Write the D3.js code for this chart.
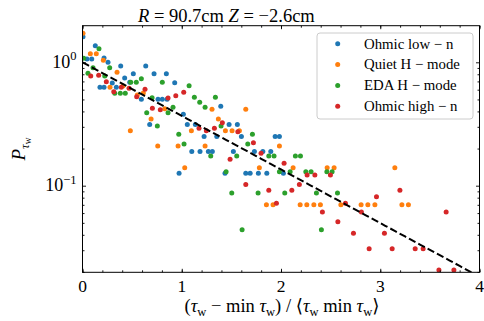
<!DOCTYPE html>
<html>
<head>
<meta charset="utf-8">
<script src="https://cdn.jsdelivr.net/npm/d3@7"></script>
<style>
  html, body { margin: 0; padding: 0; background: #fff; }
  svg text { font-family: "Liberation Serif", "DejaVu Serif", serif; fill: #000; }
</style>
</head>
<body>
<svg id="chart" width="484" height="321"></svg>
<script>
// Waiting-time distributions, normalised waiting time vs probability
const seriesNames = ["Ohmic low \u2212 n", "Quiet H \u2212 mode", "EDA H \u2212 mode", "Ohmic high \u2212 n"];
const seriesColors = ["#1f77b4", "#ff7f0e", "#2ca02c", "#d62728"];

const ohmicLowX = [0.005,0.129,0.045,0.093,0.217,0.257,0.385,0.637,0.512,0.721,0.845,0.425,0.300,0.476,0.929,0.176,0.217,0.341,0.593,0.761,0.804,0.852,1.016,0.677,1.056,1.137,1.393,1.477,1.560,1.225,1.353,1.601,1.941,1.984,1.101,1.184,1.268,1.308,1.520,1.732,1.817,1.897,0.973,1.436,1.645,1.689,1.772,1.857,2.024];
const ohmicLowP = [1.612,1.363,1.064,1.064,1.083,1.000,0.933,0.933,0.808,0.808,0.808,0.746,0.680,0.688,0.683,0.627,0.627,0.627,0.501,0.501,0.501,0.501,0.379,0.314,0.314,0.314,0.440,0.314,0.314,0.251,0.251,0.251,0.251,0.251,0.189,0.189,0.189,0.189,0.189,0.189,0.189,0.189,0.126,0.126,0.126,0.126,0.126,0.126,0.126];

const quietHX = [0.005,0.079,0.139,0.210,0.348,0.277,0.408,0.613,0.552,0.829,0.691,0.482,1.097,1.305,1.645,1.369,1.440,1.507,1.581,1.235,1.984,0.758,0.963,1.030,1.782,2.122,2.465,2.535,3.147,1.853,1.920,2.193,2.260,2.331,2.397,2.603,2.807,2.875,2.946,3.218,3.284];
const quietHP = [1.718,1.174,1.174,1.038,0.830,0.627,0.643,0.564,0.543,0.421,0.347,0.279,0.279,0.416,0.416,0.347,0.279,0.279,0.279,0.210,0.210,0.210,0.210,0.140,0.140,0.140,0.140,0.140,0.140,0.0702,0.0702,0.0702,0.0702,0.0702,0.0702,0.0702,0.0702,0.0702,0.0702,0.0702,0.0702];

const edaHX = [0.166,0.012,0.274,0.106,0.055,0.224,0.593,0.486,0.542,0.804,1.074,0.325,0.381,0.431,0.701,1.127,0.912,0.862,0.647,0.754,0.970,1.023,1.339,1.181,1.235,1.396,1.712,1.665,1.292,1.554,1.877,1.930,2.145,2.196,1.447,1.984,2.092,2.250,2.303,2.462,2.515,1.504,1.769,2.038,2.357,2.569,1.608,2.407];
const edaHP = [1.289,1.077,0.904,0.904,0.814,0.774,0.736,0.688,0.688,0.688,0.645,0.561,0.561,0.561,0.517,0.520,0.432,0.390,0.390,0.305,0.261,0.218,0.520,0.474,0.432,0.305,0.261,0.218,0.174,0.174,0.174,0.174,0.174,0.174,0.130,0.130,0.130,0.130,0.130,0.130,0.130,0.0873,0.0873,0.0873,0.0873,0.0873,0.0439,0.0439];

const ohmicHighX = [0.083,0.163,0.240,0.391,0.469,0.630,1.020,0.315,0.546,0.862,0.940,0.704,0.784,1.409,1.329,1.174,1.248,1.565,1.722,1.799,1.487,2.031,2.263,2.341,2.498,2.185,1.645,1.877,2.109,1.954,2.962,3.198,2.649,2.417,2.810,3.664,2.573,2.730,3.042,2.888,3.120,3.352,3.432,3.591,3.742];
const ohmicHighP = [0.774,0.785,0.696,0.627,0.616,0.604,0.571,0.578,0.526,0.514,0.536,0.424,0.413,0.324,0.292,0.292,0.279,0.274,0.223,0.183,0.164,0.152,0.122,0.122,0.122,0.1025,0.1025,0.0918,0.0918,0.0720,0.0814,0.0918,0.0720,0.0612,0.0612,0.0612,0.0511,0.0411,0.0411,0.0309,0.0309,0.0309,0.0309,0.0207,0.0207];

const xTicks = [0, 1, 2, 3, 4];
const xTickLabels = ["0", "1", "2", "3", "4"];
const yTicks = [1, 0.1];
const yTickExps = ["0", "\u22121"];
const title = { r: "90.7cm", z: "\u22122.6cm" };

const seriesX = [ohmicLowX, quietHX, edaHX, ohmicHighX];
const seriesP = [ohmicLowP, quietHP, edaHP, ohmicHighP];

const svg = d3.select("#chart");
const L = 82.5, R = 479.5, T = 25.7, B = 272.3;

const x = d3.scaleLinear().domain([0, 4]).range([L, R]);
const y = d3.scaleLog().domain([0.01987, 1.98]).range([B, T]);

svg.append("defs").append("clipPath").attr("id", "plotclip")
  .append("rect").attr("x", L).attr("y", T).attr("width", R - L).attr("height", B - T);

const plot = svg.append("g").attr("clip-path", "url(#plotclip)");

// scatter points, drawn series by series
seriesX.forEach((xs, s) => {
  const pts = xs.map((v, i) => ({ x: v, p: seriesP[s][i] }));
  plot.append("g").selectAll("circle").data(pts).enter().append("circle")
    .attr("cx", d => x(d.x)).attr("cy", d => y(d.p))
    .attr("r", 2.5).attr("fill", seriesColors[s]);
});

// exponential reference exp(-x)
const refX = d3.range(0, 4.001, 0.05);
plot.append("path")
  .datum(refX)
  .attr("d", d3.line().x(d => x(d)).y(d => y(Math.exp(-d))))
  .attr("fill", "none").attr("stroke", "#000").attr("stroke-width", 2)
  .attr("stroke-dasharray", "7.4,3.2");

// axes with inward ticks on all four sides
const minorX = d3.range(0, 4.001, 0.2).map(v => +v.toFixed(2));
const minorY = [];
[0.01, 0.1, 1].forEach(dec => { for (let k = 2; k <= 9; k++) minorY.push(dec * k); });
const minorYIn = minorY.filter(v => v >= 0.01987 && v <= 1.98);

function tickGroup(axis, tr) {
  const g = svg.append("g").attr("transform", tr).call(axis);
  g.select(".domain").remove();
  g.selectAll("line").attr("stroke", "#000").attr("stroke-width", 0.9);
  g.selectAll("text").remove();
  return g;
}
tickGroup(d3.axisBottom(x).tickValues(minorX).tickSizeInner(-2).tickSizeOuter(0), `translate(0,${B})`);
tickGroup(d3.axisBottom(x).tickValues(xTicks).tickSizeInner(-3.5).tickSizeOuter(0), `translate(0,${B})`);
tickGroup(d3.axisTop(x).tickValues(minorX).tickSizeInner(-2).tickSizeOuter(0), `translate(0,${T})`);
tickGroup(d3.axisTop(x).tickValues(xTicks).tickSizeInner(-3.5).tickSizeOuter(0), `translate(0,${T})`);
tickGroup(d3.axisLeft(y).tickValues(minorYIn).tickSizeInner(-2).tickSizeOuter(0), `translate(${L},0)`);
tickGroup(d3.axisLeft(y).tickValues(yTicks).tickSizeInner(-3.5).tickSizeOuter(0), `translate(${L},0)`);
tickGroup(d3.axisRight(y).tickValues(minorYIn).tickSizeInner(-2).tickSizeOuter(0), `translate(${R},0)`);
tickGroup(d3.axisRight(y).tickValues(yTicks).tickSizeInner(-3.5).tickSizeOuter(0), `translate(${R},0)`);

svg.append("rect").attr("x", L).attr("y", T).attr("width", R - L).attr("height", B - T)
  .attr("fill", "none").attr("stroke", "#000").attr("stroke-width", 1);

// tick labels
svg.append("g").selectAll("text").data(xTicks).enter().append("text")
  .attr("x", d => x(d)).attr("y", B + 19.5).attr("text-anchor", "middle")
  .attr("font-size", 17.5).text((d, i) => xTickLabels[i]);

const yl = svg.append("g").selectAll("text").data(yTicks).enter().append("text")
  .attr("x", L - 6).attr("y", d => y(d) + 5.5).attr("text-anchor", "end").attr("font-size", 18);
yl.append("tspan").text("10");
yl.append("tspan").attr("dy", -7.5).attr("font-size", 12.5).text((d, i) => yTickExps[i]);

// rich text helper: segments carry their own vertical offset from the baseline
function richText(sel, segs) {
  let cur = 0;
  segs.forEach(s => {
    const off = s.off || 0;
    const t = sel.append("tspan").text(s.t).attr("dy", off - cur);
    if (s.it) t.attr("font-style", "italic");
    if (s.fs) t.attr("font-size", s.fs);
    cur = off;
  });
}

// axis titles
const tauSegs = [{ t: "\u03c4", it: true }, { t: "w", fs: 12.5, off: 3.5 }];
const xt = svg.append("text").attr("x", (L + R) / 2 + 1).attr("y", 312).attr("text-anchor", "middle").attr("font-size", 18.5);
richText(xt, [{ t: "(" }, ...tauSegs, { t: " \u2212 min " }, ...tauSegs,
  { t: ") / \u27e8" }, ...tauSegs, { t: " min " }, ...tauSegs, { t: "\u27e9" }]);

const ytl = svg.append("text").attr("transform", `translate(25,${(T + B) / 2}) rotate(-90)`)
  .attr("text-anchor", "middle").attr("font-size", 19);
richText(ytl, [{ t: "P", it: true }, { t: "\u03c4", it: true, fs: 13, off: 4 }, { t: "w", fs: 9.5, off: 6 }]);

// title
const tt = svg.append("text").attr("x", 138).attr("y", 22).attr("font-size", 18.5);
richText(tt, [{ t: "R", it: true }, { t: " = " + title.r + " " }, { t: "Z", it: true }, { t: " = " + title.z }]);

// legend
const lg = svg.append("g");
lg.append("rect").attr("x", 317).attr("y", 33).attr("width", 156).attr("height", 86)
  .attr("rx", 3).attr("fill", "#fff").attr("fill-opacity", 0.8)
  .attr("stroke", "#cccccc").attr("stroke-width", 1);
const rowY = d3.scaleLinear().domain([0, 3]).range([43.7, 106.3]);
seriesNames.forEach((name, i) => {
  lg.append("circle").attr("cx", 337.7).attr("cy", rowY(i)).attr("r", 2.5).attr("fill", seriesColors[i]);
  lg.append("text").attr("x", 364).attr("y", rowY(i) + 4.8).attr("font-size", 14.8).text(name);
});
</script>
</body>
</html>
